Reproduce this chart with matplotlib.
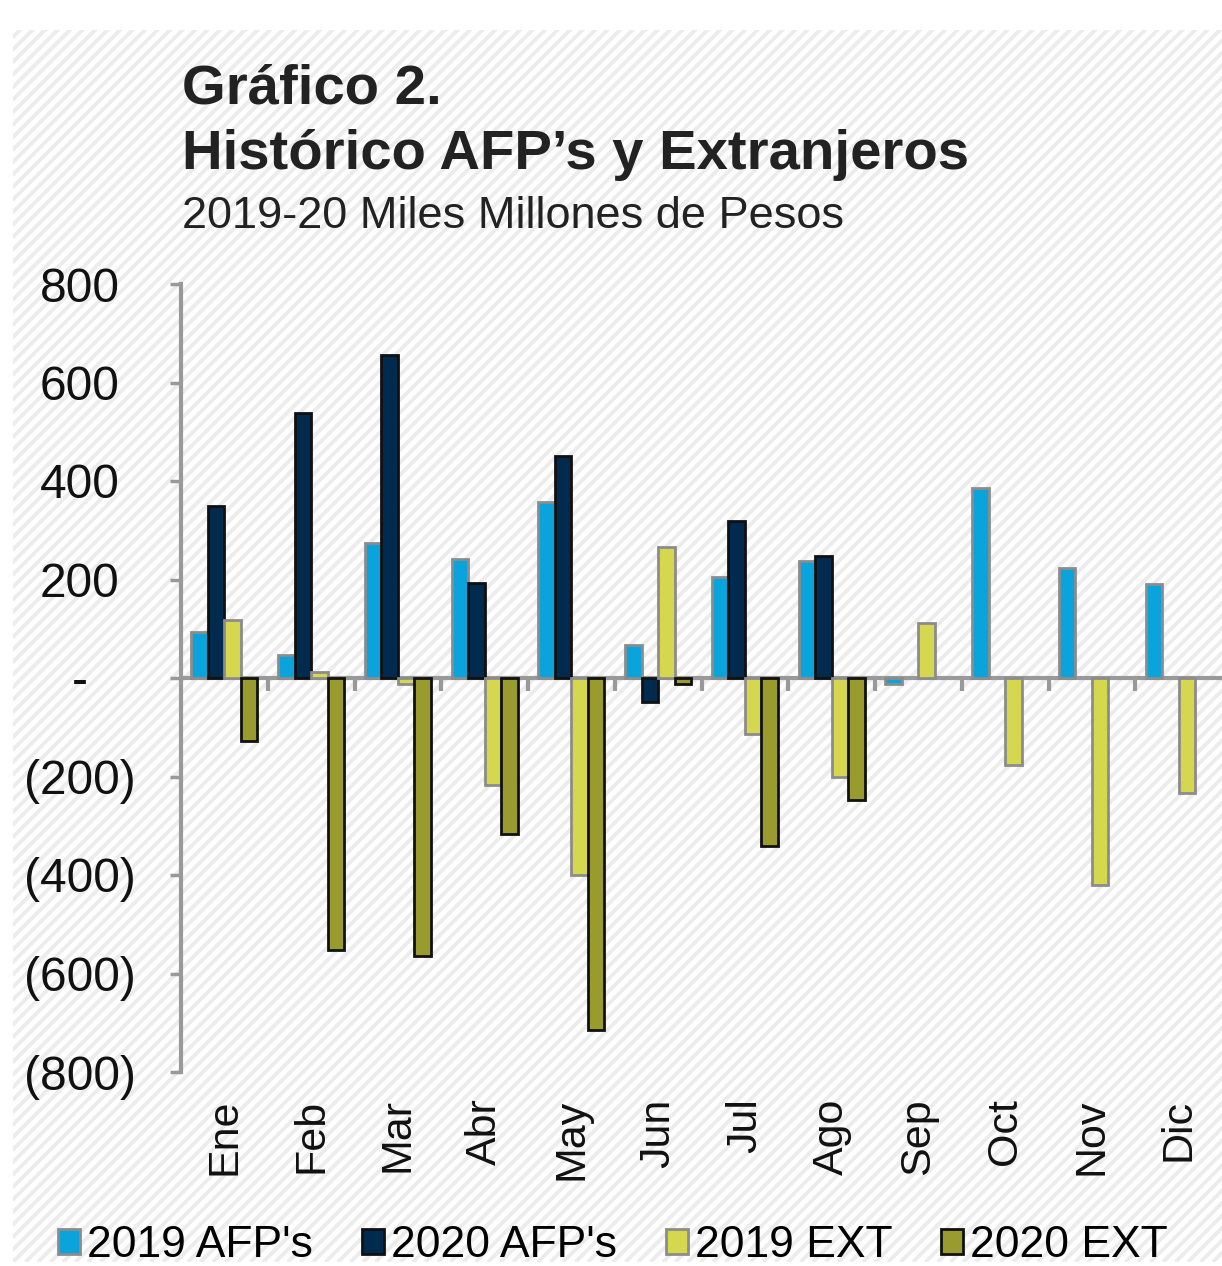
import numpy as np
import matplotlib.pyplot as plt

plt.rcParams['font.family'] = ['Liberation Sans', 'DejaVu Sans']

meses = ['Ene', 'Feb', 'Mar', 'Abr', 'May', 'Jun', 'Jul', 'Ago', 'Sep', 'Oct', 'Nov', 'Dic']
afp_2019 = [93, 47, 274, 242, 357, 67, 205, 238, -12, 386, 223, 191]
afp_2020 = [349, 538, 656, 193, 451, -49, 319, 248, np.nan, np.nan, np.nan, np.nan]
ext_2019 = [118, 12, -12, -217, -400, 266, -114, -201, 112, -177, -420, -234]
ext_2020 = [-128, -552, -564, -317, -715, -12, -341, -248, np.nan, np.nan, np.nan, np.nan]

series = [
    ("2019 AFP's", afp_2019, '#0aa3dc', '#8c8c8c'),
    ("2020 AFP's", afp_2020, '#002a4e', '#111111'),
    ("2019 EXT", ext_2019, '#d5d84e', '#8c8c8c'),
    ("2020 EXT", ext_2020, '#9a9b2e', '#111111'),
]
yticks = [-800, -600, -400, -200, 0, 200, 400, 600, 800]
ylabels = ['(800)', '(600)', '(400)', '(200)', '-', '200', '400', '600', '800']

W, H = 1222, 1266
fig = plt.figure(figsize=(W / 100, H / 100), dpi=100)

# striped background panel (pixel coordinates)
bg = fig.add_axes([13 / W, 4 / H, 1 - 13 / W, 1232 / H], zorder=-10)
bg.set_xlim(0, W - 13)
bg.set_ylim(0, 1232)
bg.axis('off')
for off in np.arange(-1300, 1300, 12.5):
    bg.plot([off, off + 1300], [0, 1300], color='#ececec', lw=2.8, solid_capstyle='butt')

ax = fig.add_axes([181 / W, 1 - 1072 / H, 1 - 181 / W, (1072 - 284) / H])
ax.set_facecolor('none')

x = np.arange(len(meses))
w = 0.19
for i, (name, vals, fc, ec) in enumerate(series):
    ax.bar(x + (i - 1.5) * w, vals, width=w, color=fc, edgecolor=ec, linewidth=2, label=name, zorder=3)

ax.set_xlim(-0.5, len(meses) - 0.5)
ax.set_ylim(-800, 800)
ax.axhline(0, color='#999999', lw=3, zorder=2)
ax.vlines(np.arange(1, len(meses)) - 0.5, -26, 0, color='#999999', lw=3, zorder=2)

for s in ['top', 'right', 'bottom']:
    ax.spines[s].set_visible(False)
ax.spines['left'].set_color('#999999')
ax.spines['left'].set_linewidth(3)

ax.set_yticks(yticks)
ax.set_yticklabels(ylabels, fontsize=34.5, color='#111111', ha='center')
ax.tick_params(axis='y', length=8, width=2.5, color='#999999', pad=65)
ax.set_xticks(x)
ax.set_xticklabels(meses, rotation=90, fontsize=31, color='#111111')
ax.tick_params(axis='x', length=0, pad=19)

fig.text(182 / W, 1 - 104 / H, 'Gráfico 2.', fontsize=40.5, fontweight='bold', color='#222222')
fig.text(182 / W, 1 - 169 / H, 'Histórico AFP’s y Extranjeros', fontsize=40.5, fontweight='bold', color='#222222')
fig.text(182 / W, 1 - 228 / H, '2019-20 Miles Millones de Pesos', fontsize=32.5, color='#222222')

fig.legend(loc='lower center', bbox_to_anchor=(0.5 + 2 / W, -0.014), ncol=4, frameon=False,
           fontsize=32, handlelength=0.5, handleheight=0.5, handletextpad=0.15, columnspacing=1.1,
           borderaxespad=0)

fig.savefig('out.png', dpi=100, facecolor='white')
